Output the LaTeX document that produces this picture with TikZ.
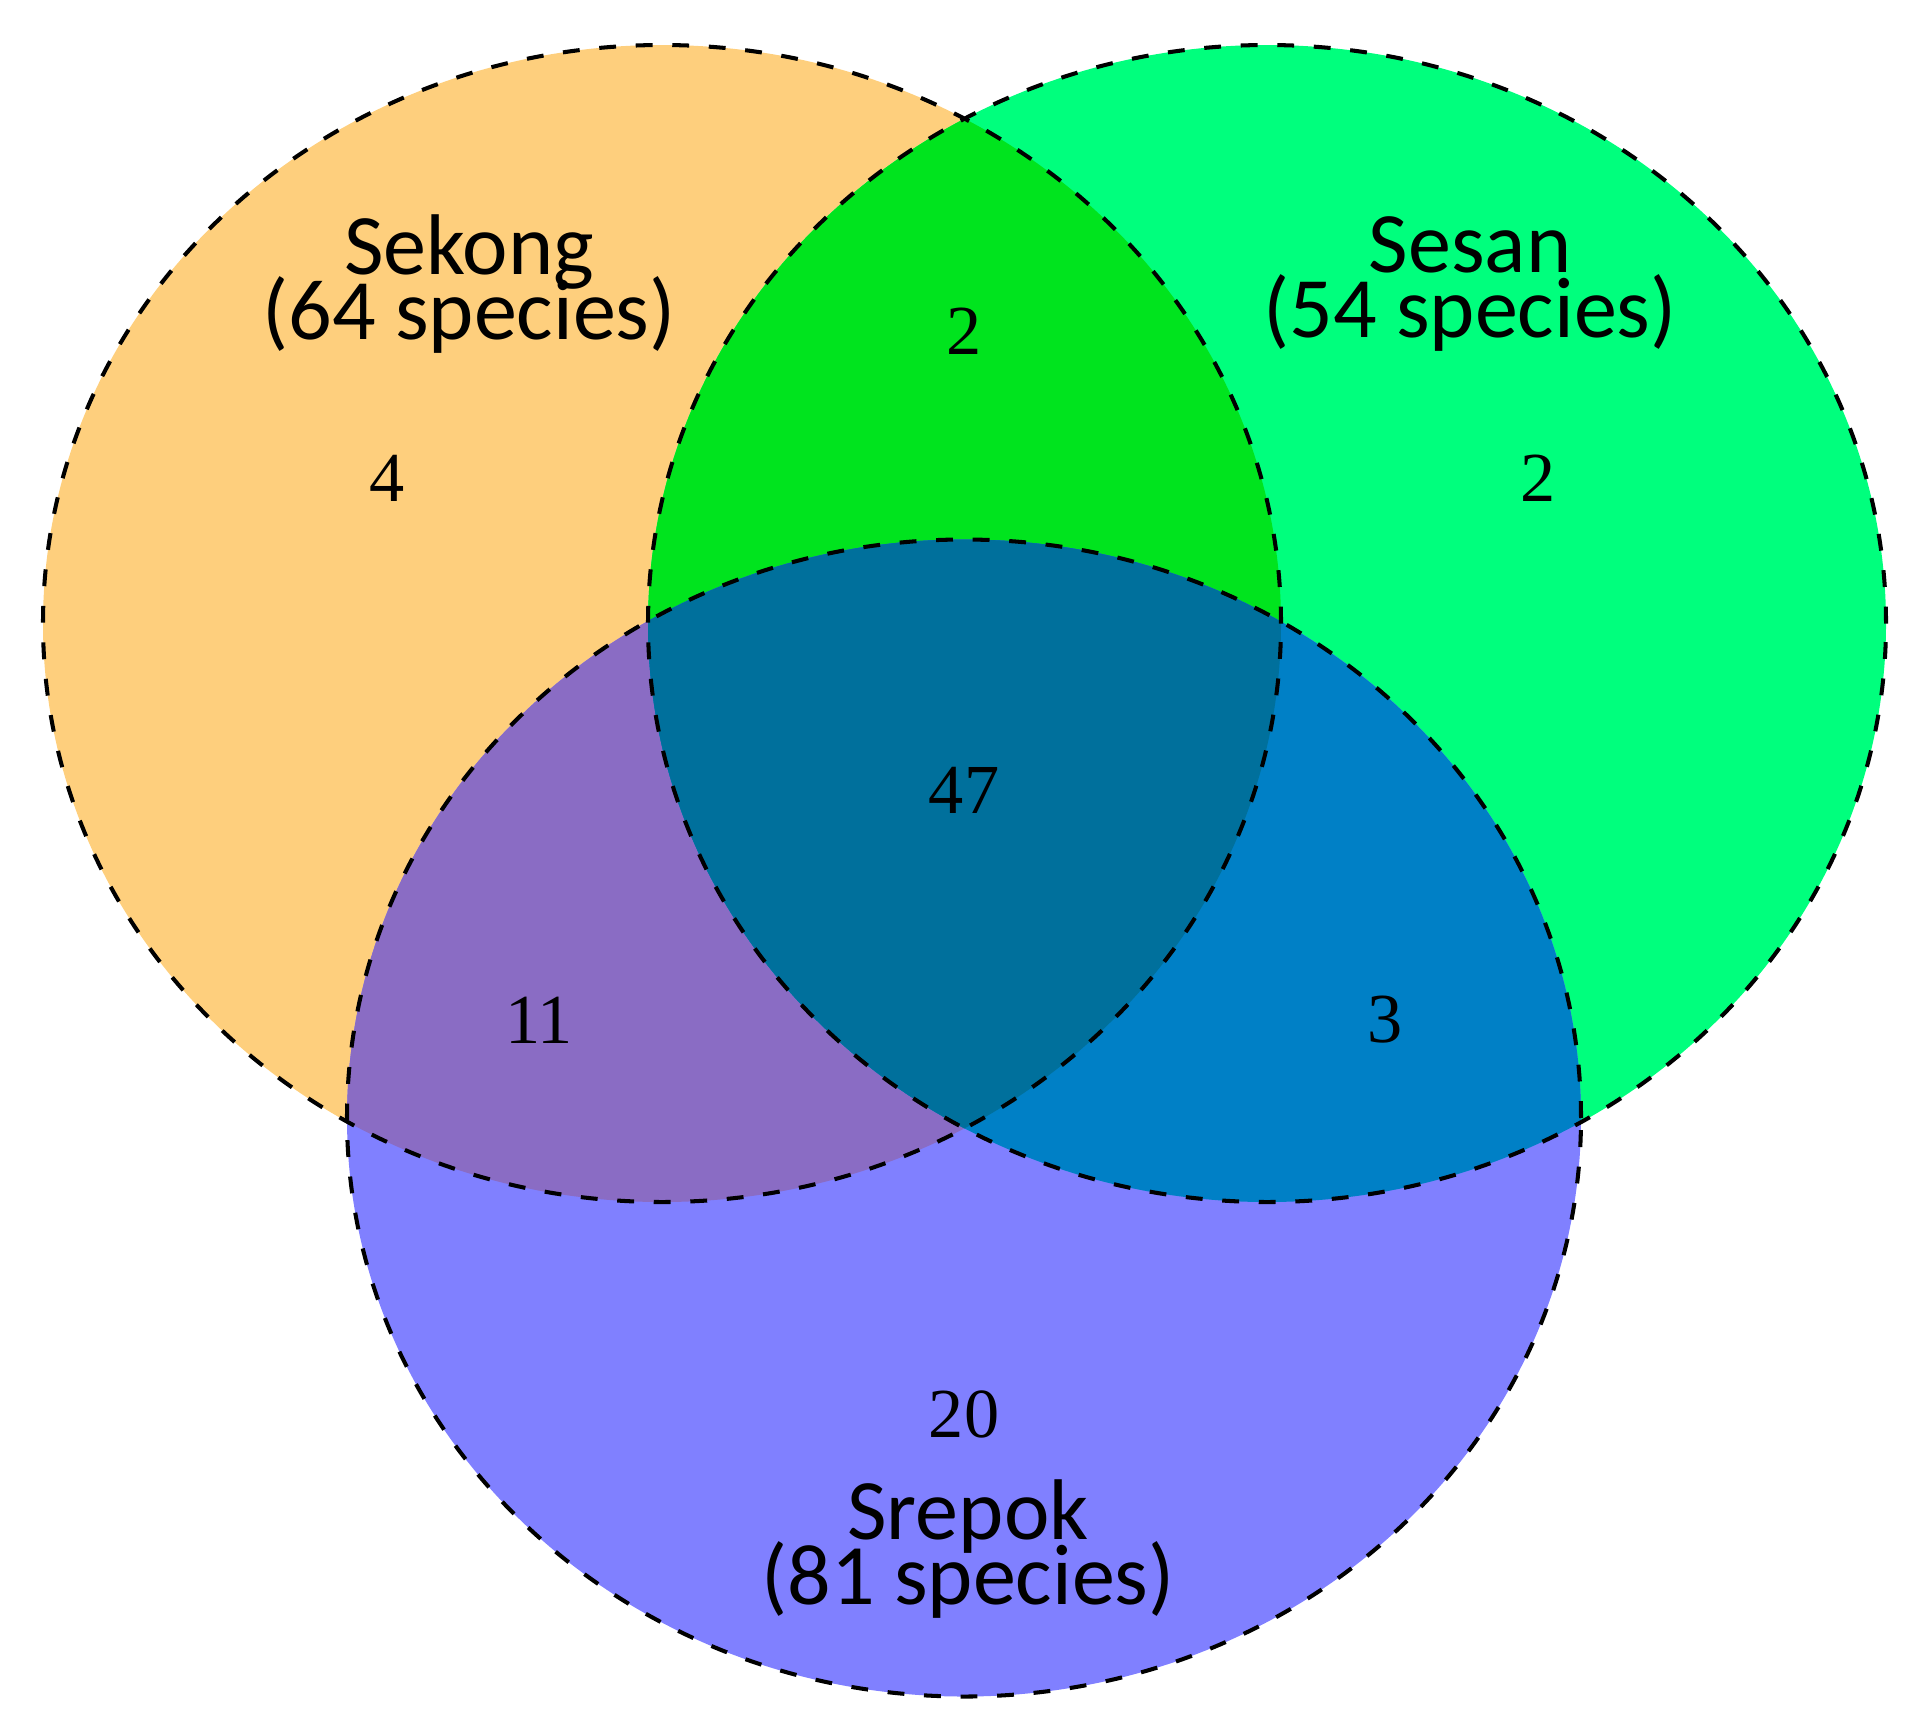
\documentclass[tikz,border=0pt]{standalone}
\usepackage{fontspec}
\newfontfamily\labfont{Carlito}
\newfontfamily\numfont{Liberation Serif}
\newcommand\labsetup{\labfont\fontsize{24.5}{18.5}\selectfont\lineskiplimit=-100pt\relax\lineskip=0pt\relax}
\definecolor{cO}{RGB}{254,207,125}
\definecolor{cG}{RGB}{0,255,125}
\definecolor{cB}{RGB}{128,128,255}
\definecolor{cOG}{RGB}{0,228,30}
\definecolor{cOB}{RGB}{138,108,196}
\definecolor{cGB}{RGB}{0,128,198}
\definecolor{cOGB}{RGB}{0,112,156}
\tikzset{
  outline/.style={draw=black,line width=1.15pt,dash pattern=on 4.8pt off 5.6pt},
  lab/.style={font=\labsetup,align=center,inner sep=0pt},
  num/.style={font=\numfont\fontsize{20}{24}\selectfont,inner sep=0pt}
}
\def\elO{(6.62,-6.235) ellipse [x radius=6.19cm, y radius=5.785cm]}
\def\elG{(12.67,-6.235) ellipse [x radius=6.19cm, y radius=5.785cm]}
\def\elB{(9.64,-11.18) ellipse [x radius=6.17cm, y radius=5.785cm]}
\begin{document}
\begin{tikzpicture}
\useasboundingbox (0,0) rectangle (19.2,-17.34);
\fill[cO] \elO;
\fill[cG] \elG;
\fill[cB] \elB;
\begin{scope}
  \clip \elO;
  \fill[cOG] \elG;
  \fill[cOB] \elB;
  \clip \elG;
  \fill[cOGB] \elB;
\end{scope}
\begin{scope}
  \clip \elG;
  \clip \elB;
  \fill[cGB] (0,0) rectangle (19.2,-17.34);
  \clip \elO;
  \fill[cOGB] (0,0) rectangle (19.2,-17.34);
\end{scope}
\draw[outline] \elO;
\draw[outline] \elG;
\draw[outline] \elB;
\node[lab] (sekong) at (4.69,-2.84) {Sekong\\(64 species)};
\node[lab] (sesan) at (14.70,-2.84) {Sesan\\(54 species)};
\node[lab] (srepok) at (9.68,-15.49) {Srepok\\(81 species)};
\node[num] (nog) at (9.64,-3.31) {2};
\node[num] (no) at (3.87,-4.78) {4};
\node[num] (ng) at (15.38,-4.78) {2};
\node[num] (nogb) at (9.64,-7.90) {47};
\node[num] (nob) at (5.39,-10.20) {11};
\node[num] (ngb) at (13.85,-10.20) {3};
\node[num] (nb) at (9.64,-14.14) {20};
\end{tikzpicture}
\end{document}
